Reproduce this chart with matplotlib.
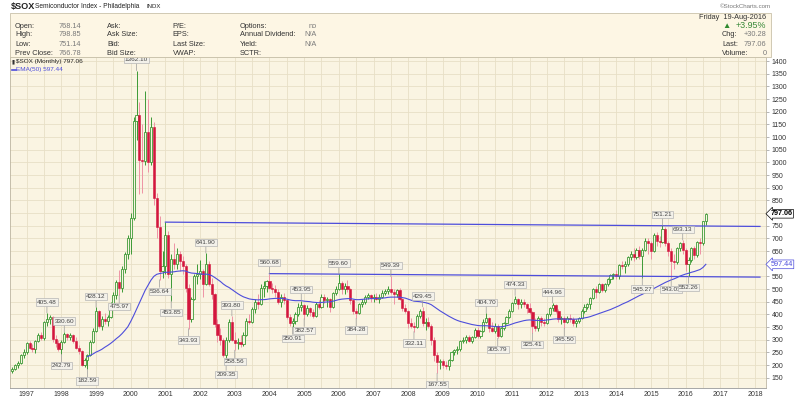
import numpy as np
import matplotlib
matplotlib.use('Agg')
import matplotlib.pyplot as plt
from matplotlib.patches import Rectangle

plt.rcParams['font.family'] = ['Liberation Sans', 'DejaVu Sans']

# ---------------- data (monthly, first candle = Aug 1996) ----------------
start_year, start_month = 1996, 8

opens = [
    176, 186, 200, 206, 238,                                        # 1996 Aug-Dec
    250, 285, 268, 262, 296, 318, 305, 368, 380, 390, 302, 285,     # 1997
    262, 292, 322, 310, 320, 295, 268, 255, 200, 220, 238, 292,     # 1998
    335, 412, 355, 380, 375, 390, 442, 478, 528, 502, 580, 640,     # 1999
    700, 782, 1165, 1188, 1010, 1005, 1120, 1000, 1140, 860, 745, 570,  # 2000
    590, 715, 560, 620, 600, 640, 610, 590, 505, 380, 460, 550,     # 2001
    560, 570, 520, 600, 520, 480, 360, 320, 300, 240, 300, 370,     # 2002
    300, 285, 290, 282, 320, 375, 370, 420, 450, 440, 505, 510,     # 2003
    530, 505, 500, 490, 450, 470, 455, 390, 365, 375, 400, 430,     # 2004
    435, 400, 425, 410, 395, 440, 430, 470, 455, 460, 430, 485,     # 2005
    500, 525, 500, 510, 500, 455, 415, 405, 440, 450, 468, 475,     # 2006
    465, 470, 460, 470, 485, 492, 500, 490, 480, 495, 462, 425,     # 2007
    415, 365, 355, 350, 395, 415, 365, 370, 355, 300, 240, 210,     # 2008
    215, 200, 195, 220, 250, 260, 265, 295, 300, 310, 295, 310,     # 2009
    340, 315, 335, 370, 385, 345, 335, 355, 315, 345, 365, 390,     # 2010
    415, 445, 460, 440, 450, 440, 425, 410, 355, 345, 385, 370,     # 2011
    365, 400, 425, 435, 415, 380, 385, 370, 385, 380, 365, 375,     # 2012
    385, 415, 430, 440, 465, 500, 490, 520, 495, 520, 540, 555,     # 2013
    560, 550, 595, 590, 600, 625, 640, 625, 655, 630, 655, 690,     # 2014
    680, 650, 715, 690, 685, 735, 680, 650, 610, 605, 660, 680,     # 2015
    655, 600, 615, 660, 635, 685, 680, 768.14,                      # 2016 Jan-Aug
]
highs = [
    192, 205, 214, 242, 262,
    292, 296, 282, 300, 328, 330, 375, 405.48, 398, 395, 318, 300,
    300, 330.60, 328, 326, 324, 312, 278, 260, 228, 245, 300, 345,
    428.12, 418, 392, 405, 398, 448, 490, 535, 575, 590, 648, 712,
    800, 1180, 1362.10, 1238, 1150, 1280, 1250, 1180, 1160, 880, 790, 650,
    764, 730, 640, 680, 660, 650, 630, 600, 520, 470, 560, 600,
    615, 580, 641.90, 610, 545, 485, 380, 345, 305, 310, 380, 393.80,
    330, 305, 320, 330, 385, 400, 430, 460, 480, 520, 530, 535,
    560.68, 525, 515, 500, 480, 485, 460, 400, 385, 410, 445, 453.95,
    440, 435, 430, 420, 450, 455, 480, 480, 470, 465, 490, 510,
    559.60, 530, 525, 535, 505, 460, 425, 445, 460, 475, 485, 480,
    480, 485, 480, 495, 500, 510, 549.39, 500, 500, 505, 465, 440,
    418, 385, 370, 400, 420, 429.45, 385, 390, 360, 310, 250, 225,
    225, 215, 225, 255, 265, 275, 300, 310, 320, 320, 315, 345,
    350, 340, 380, 404.70, 390, 370, 365, 360, 350, 370, 395, 420,
    450, 474.33, 465, 460, 460, 445, 445, 415, 385, 395, 395, 385,
    405, 430, 444.96, 440, 420, 395, 395, 395, 400, 390, 380, 390,
    420, 440, 445, 470, 505, 510, 525, 525, 525, 545, 560, 565,
    575, 600, 610, 610, 630, 650, 660, 660, 670, 660, 700, 700,
    690, 720, 725, 710, 751.21, 745, 690, 660, 640, 665, 685, 693.13,
    660, 625, 665, 670, 690, 700, 770, 798.85,
]
lows = [
    170, 180, 190, 203, 228,
    245, 262, 250, 248, 290, 298, 300, 355, 362, 292, 272, 255,
    242.79, 288, 300, 298, 285, 262, 245, 195, 192, 182.59, 235, 285,
    330, 345, 340, 360, 355, 385, 430, 462, 475.97, 490, 565, 620,
    640, 772, 1090, 875, 880, 990, 960, 990, 830, 700, 536.64, 545,
    560, 545, 453.85, 580, 580, 570, 560, 490, 343.93, 370, 455, 520,
    540, 470, 515, 510, 460, 350, 290, 280, 230, 209.35, 290, 295,
    258.56, 265, 270, 275, 315, 360, 365, 405, 420, 435, 470, 490,
    500, 485, 470, 440, 430, 440, 380, 355, 350.91, 360, 395, 415,
    382.57, 395, 395, 385, 390, 420, 425, 445, 430, 410, 425, 475,
    495, 480, 480, 490, 440, 400, 384.28, 400, 430, 440, 460, 450,
    450, 455, 445, 465, 475, 480, 480, 440, 470, 455, 415, 405,
    345, 345, 332.11, 345, 385, 355, 340, 345, 280, 215, 167.55, 185,
    190, 185, 180, 215, 240, 245, 255, 285, 285, 290, 285, 305,
    305, 305, 330, 365, 330, 330, 325, 305.79, 310, 340, 360, 385,
    410, 440, 420, 425, 430, 405, 400, 325.41, 335, 335, 355, 355,
    360, 395, 415, 405, 370, 360, 345.50, 365, 370, 355, 350, 365,
    380, 405, 420, 420, 460, 465, 485, 490, 490, 510, 525, 540,
    540, 540, 580, 565, 590, 615, 610, 620, 620, 545.27, 650, 640,
    620, 645, 670, 665, 680, 670, 630, 543.03, 580, 600, 650, 640,
    570, 552.26, 605, 620, 625, 640, 675, 751.14,
]
closes = [
    186, 200, 206, 238, 250,
    285, 268, 262, 296, 318, 305, 368, 380, 390, 302, 285, 262,
    292, 322, 310, 320, 295, 268, 255, 200, 220, 238, 292, 335,
    412, 355, 380, 375, 390, 442, 478, 528, 502, 580, 640, 700,
    782, 1165, 1188, 1010, 1005, 1120, 1000, 1140, 860, 745, 570, 590,
    715, 560, 620, 600, 640, 610, 590, 505, 380, 460, 550, 560,
    570, 520, 600, 520, 480, 360, 320, 300, 240, 300, 370, 300,
    285, 290, 282, 320, 375, 370, 420, 450, 440, 505, 510, 530,
    505, 500, 490, 450, 470, 455, 390, 365, 375, 400, 430, 435,
    400, 425, 410, 395, 440, 430, 470, 455, 460, 430, 485, 500,
    525, 500, 510, 500, 455, 415, 405, 440, 450, 468, 475, 465,
    470, 460, 470, 485, 492, 500, 490, 480, 495, 462, 425, 415,
    365, 355, 350, 395, 415, 365, 370, 355, 300, 240, 210, 215,
    200, 195, 220, 250, 260, 265, 295, 300, 310, 295, 310, 340,
    315, 335, 370, 385, 345, 335, 355, 315, 345, 365, 390, 415,
    445, 460, 440, 450, 440, 425, 410, 355, 345, 385, 370, 365,
    400, 425, 435, 415, 380, 385, 370, 385, 380, 365, 375, 385,
    415, 430, 440, 465, 500, 490, 520, 495, 520, 540, 555, 560,
    550, 595, 590, 600, 625, 640, 625, 655, 630, 655, 690, 680,
    650, 715, 690, 685, 735, 680, 650, 610, 605, 660, 680, 655,
    600, 615, 660, 635, 685, 680, 766.78, 797.06,
]

# EMA(50) as drawn, monthly from Oct 1998
ema_start = (1998, 10)
ema50 = [
    233, 238, 244,                                                  # 1998 Oct-Dec
    251, 256, 262, 270, 277, 285, 294, 304, 313, 324, 337, 351,     # 1999
    372, 395, 420, 445, 470, 495, 515, 535, 550, 558, 561, 563,     # 2000
    566, 566, 567, 568, 570, 571, 572, 571, 566, 563, 562, 561,     # 2001
    560, 558, 559, 557, 553, 546, 538, 530, 520, 512, 506, 498,     # 2002
    490, 482, 475, 469, 465, 461, 459, 458, 457, 458, 458, 459,     # 2003
    461, 462, 463, 463, 463, 462, 460, 457, 455, 454, 454, 454,     # 2004
    452, 451, 450, 448, 447, 446, 447, 448, 449, 449, 452, 455,     # 2005
    458, 460, 461, 462, 462, 460, 458, 458, 459, 460, 461, 462,     # 2006
    462, 463, 463, 464, 465, 467, 468, 468, 468, 468, 466, 464,     # 2007
    460, 456, 452, 451, 450, 448, 446, 443, 438, 430, 422, 414,     # 2008
    407, 400, 393, 387, 381, 376, 372, 369, 366, 363, 360, 358,     # 2009
    356, 355, 355, 355, 354, 353, 352, 351, 351, 352, 355, 358,     # 2010
    362, 366, 369, 372, 375, 377, 378, 377, 376, 376, 376, 376,     # 2011
    378, 379, 381, 382, 382, 382, 381, 381, 381, 381, 381, 382,     # 2012
    384, 386, 388, 391, 395, 399, 403, 407, 411, 415, 419, 424,     # 2013
    429, 434, 440, 445, 450, 456, 462, 468, 474, 479, 485, 491,     # 2014
    496, 502, 508, 514, 520, 526, 531, 536, 540, 545, 551, 555,     # 2015
    559, 562, 566, 569, 573, 577, 585, 597.44,                      # 2016
]

# trend lines (start month, start value, end value at right edge)
trend_upper = ('2001-01', 764.0, 747.0)
trend_lower = ('2004-01', 560.68, 547.0)

# annotated highs / lows
mark_months = ['1997-08', '1998-01', '1998-02', '1998-10', '1999-01', '1999-09',
               '2000-03', '2000-11', '2001-03', '2001-09', '2002-03', '2002-10',
               '2002-12', '2003-01', '2004-01', '2004-09', '2004-12', '2005-01',
               '2006-01', '2006-07', '2007-07', '2008-03', '2008-06', '2008-11',
               '2010-04', '2010-08', '2011-02', '2011-08', '2012-03', '2012-07',
               '2014-10', '2015-05', '2015-08', '2015-12', '2016-02']
mark_kinds = ['H', 'L', 'H', 'L', 'H', 'L',
              'H', 'L', 'L', 'L', 'H', 'L',
              'H', 'L', 'H', 'L', 'H', 'L',
              'H', 'L', 'H', 'L', 'H', 'L',
              'H', 'L', 'H', 'L', 'H', 'L',
              'L', 'H', 'L', 'H', 'L']

year_ticks = list(range(1997, 2019))
price_ticks = [v for v in range(150, 1401, 50) if v not in (600, 800)]

# ---------------- styling ----------------
BG = '#faf4e2'
HEAD_BG = '#fdf6e4'
GRID = '#e8dfc6'
GREEN = '#3c9a35'
RED = '#d3163d'
PINK = '#ee93a5'
BLUE = '#4d4ddb'
TXT = '#333333'
GREY = '#7a7a7a'

W, H = 800, 399
fig = plt.figure(figsize=(W / 100, H / 100), dpi=100)
fig.patch.set_facecolor('white')

def fx(px):
    return px / W

def fy(py):
    return 1 - py / H

L_PX, R_PX, T_PX, B_PX = 10, 766, 57, 388
ax = fig.add_axes([fx(L_PX), fy(B_PX), (R_PX - L_PX) / W, (B_PX - T_PX) / H])
ax.set_facecolor(BG)

px_per_year = 34.68
x_left = 1997 + (L_PX - 26.7) / px_per_year
x_right = 1997 + (R_PX - 26.7) / px_per_year
ax.set_xlim(x_left, x_right)
v_per_px = 50 / 12.667
ax.set_ylim(1400 - (B_PX - 61) * v_per_px, 1400 + (61 - T_PX) * v_per_px)

def month_x(s):
    y, m = s.split('-')
    return int(y) + (int(m) - 1) / 12

n = len(closes)
xs = np.array([start_year + (start_month - 1 + i) / 12 for i in range(n)])
o = np.array(opens, float); h = np.array(highs, float)
l = np.array(lows, float); c = np.array(closes, float)
up = c >= o

# grid
for yv in range(150, 1401, 50):
    ax.axhline(yv, color=GRID, lw=0.6, zorder=1)
for yr in range(1996, 2019):
    for half in (0, 0.5):
        ax.axvline(yr + half, color=GRID, lw=0.6, zorder=1)

# wicks
wick_cols = [GREEN if u else PINK for u in up]
ax.vlines(xs, l, h, colors=wick_cols, lw=0.7, zorder=3)
# bodies
bw = 0.062
bottoms = np.minimum(o, c)
heights = np.maximum(np.abs(c - o), 1.5)
ax.bar(xs[up], heights[up], bottom=bottoms[up], width=bw, facecolor=BG,
       edgecolor=GREEN, lw=0.6, zorder=4)
ax.bar(xs[~up], heights[~up], bottom=bottoms[~up], width=bw, facecolor=RED,
       edgecolor=RED, lw=0.4, zorder=4)

# EMA
e0 = (ema_start[0] - start_year) * 12 + (ema_start[1] - start_month)
ax.plot(xs[e0:e0 + len(ema50)], ema50, color=BLUE, lw=0.8, zorder=5)

# trend lines
x_end = 1997 + (760 - 26.7) / px_per_year
for tl in (trend_upper, trend_lower):
    ax.plot([month_x(tl[0]), x_end], [tl[1], tl[2]], color=BLUE, lw=0.9, zorder=5)

# high / low labels
for mm, kind in zip(mark_months, mark_kinds):
    idx = (int(mm[:4]) - start_year) * 12 + int(mm[5:]) - start_month
    val = highs[idx] if kind == 'H' else lows[idx]
    dy = 6.0 if kind == 'H' else -6.5
    ax.annotate(f'{val:.2f}', xy=(xs[idx], val), xytext=(0, dy),
                textcoords='offset points', ha='center',
                va='bottom' if kind == 'H' else 'top',
                fontsize=4.6, color='#444444', zorder=8,
                bbox=dict(boxstyle='square,pad=0.18', fc='#f3f1ea', ec='#b5b5b5', lw=0.5),
                arrowprops=dict(arrowstyle='-', color='#9a9a9a', lw=0.5,
                                shrinkA=0, shrinkB=0))

# axes styling
ax.yaxis.tick_right()
ax.set_yticks(price_ticks)
ax.set_yticklabels([str(v) for v in price_ticks])
ax.tick_params(axis='y', length=2.5, width=0.5, color='#999999', pad=1.5,
               labelsize=5, labelcolor='#333333')
ax.set_xticks(year_ticks)
ax.set_xticklabels([str(y) for y in year_ticks])
ax.tick_params(axis='x', length=0, pad=2.2, labelsize=5, labelcolor='#333333')
for sp in ax.spines.values():
    sp.set_color('#bdb5a2'); sp.set_linewidth(0.6)
ax.spines['bottom'].set_linestyle((0, (1, 1)))
ax.spines['bottom'].set_color('#999999')

# right-edge value tags
ytr = ax.get_yaxis_transform()
ax.text(1.006, closes[-1], f'{closes[-1]:.2f}', transform=ytr, fontsize=5.2,
        color='black', va='center', ha='left', zorder=10, clip_on=False,
        fontweight='bold',
        bbox=dict(boxstyle='larrow,pad=0.12', fc='white', ec='black', lw=0.5))
ax.text(1.006, ema50[-1], f'{ema50[-1]:.2f}', transform=ytr, fontsize=5.2,
        color=BLUE, va='center', ha='left', zorder=10, clip_on=False,
        bbox=dict(boxstyle='larrow,pad=0.12', fc='white', ec=BLUE, lw=0.5))

# legend (top-left inside plot)
fig.text(fx(12), fy(62), '\u25ae', fontsize=4, color='#333333', va='center', ha='left')
fig.text(fx(16.5), fy(62), f'$SOX (Monthly) {closes[-1]:.2f}', fontsize=4.6,
         color='#222222', va='center', ha='left')
fig.add_artist(plt.Line2D([fx(12), fx(15.5)], [fy(69.5), fy(69.5)], color=BLUE, lw=1.2))
fig.text(fx(16), fy(69.5), f'EMA(50) {ema50[-1]:.2f}', fontsize=4.6,
         color=BLUE, va='center', ha='left')

# ---------------- header ----------------
fig.add_artist(Rectangle((fx(10), fy(57)), (771 - 10) / W, (57 - 13) / H,
                         transform=fig.transFigure, fc=HEAD_BG, ec='#c9c1aa', lw=0.6))
fig.text(fx(10.5), fy(6.8), '$SOX', fontsize=6.6, fontweight='bold', color='#222222',
         va='center', ha='left')
fig.text(fx(35), fy(7), 'Semiconductor Index - Philadelphia', fontsize=4.8,
         color='#222222', va='center', ha='left')
fig.text(fx(146.5), fy(7), 'INDX', fontsize=4.3, color='#222222', va='center', ha='left')
fig.text(fx(771.5), fy(6.5), '\u00a9StockCharts.com', fontsize=4.4, color='#777777',
         va='center', ha='right')

rows = [26, 35, 44.3, 53.3]
hfs = 5.3
col1 = ['Open:', 'High:', 'Low:', 'Prev Close:']
col1v = ['768.14', '798.85', '751.14', '766.78']
col2 = ['Ask:', 'Ask Size:', 'Bid:', 'Bid Size:']
col3 = ['P/E:', 'EPS:', 'Last Size:', 'VWAP:']
col4 = ['Options:', 'Annual Dividend:', 'Yield:', 'SCTR:']
col4v = ['no', 'N/A', 'N/A', '']
for r, a, av, b, cc, d, dv in zip(rows, col1, col1v, col2, col3, col4, col4v):
    fig.text(fx(15), fy(r), a, fontsize=hfs, color=TXT, va='center', ha='left')
    fig.text(fx(58.3), fy(r), av, fontsize=hfs, color=GREY, va='center', ha='left')
    fig.text(fx(107), fy(r), b, fontsize=hfs, color=TXT, va='center', ha='left')
    fig.text(fx(172.7), fy(r), cc, fontsize=hfs, color=TXT, va='center', ha='left')
    fig.text(fx(240), fy(r), d, fontsize=hfs, color=TXT, va='center', ha='left')
    if dv:
        fig.text(fx(316.5), fy(r), dv, fontsize=hfs, color=GREY, va='center', ha='right')

fig.text(fx(766.5), fy(17.3), 'Friday  19-Aug-2016', fontsize=hfs, color=TXT,
         va='center', ha='right')
fig.text(fx(726.5), fy(26), '\u25b2', fontsize=6, color='#2f8a2f', va='center', ha='center')
fig.text(fx(766.5), fy(26), '+3.95%', fontsize=6.4, color='#3a8a3a', va='center', ha='right')
for r, lab, val in zip(rows[1:], ['Chg:', 'Last:', 'Volume:'], ['+30.28', '797.06', '0']):
    fig.text(fx(722), fy(r), lab, fontsize=hfs, color=TXT, va='center', ha='left')
    fig.text(fx(766.5), fy(r), val, fontsize=hfs, color=GREY, va='center', ha='right')

fig.savefig('out.png', dpi=100, facecolor='white')
